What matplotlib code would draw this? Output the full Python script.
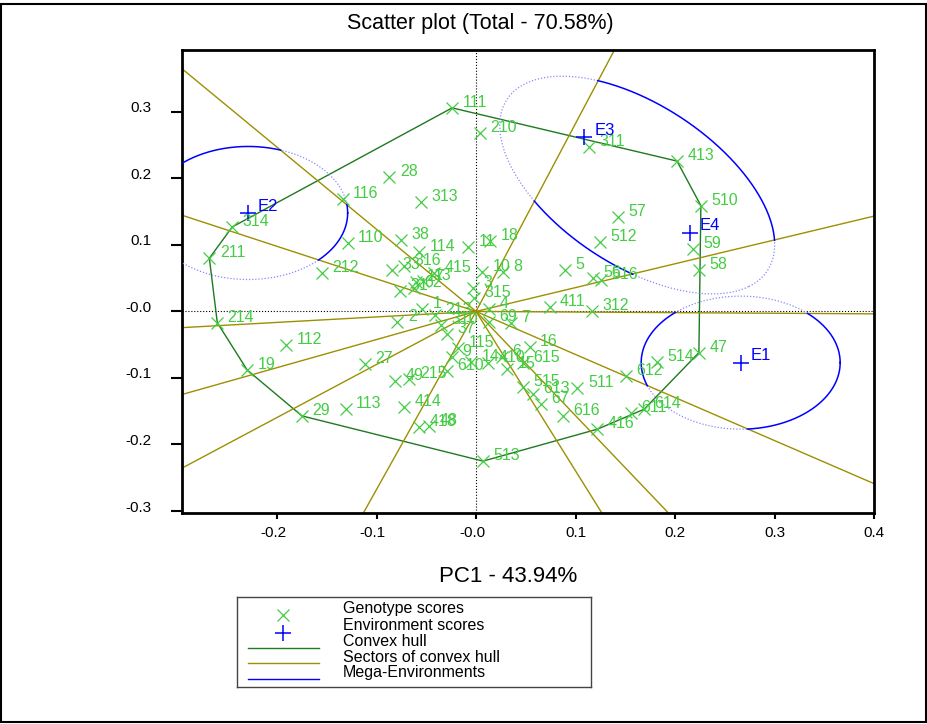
import numpy as np
import matplotlib
matplotlib.use("Agg")
import matplotlib.pyplot as plt
from matplotlib.patches import Rectangle
from matplotlib.transforms import ScaledTranslation

plt.rcParams["font.family"] = ["Liberation Sans", "DejaVu Sans"]
plt.rcParams["axes.unicode_minus"] = False

# -------------------------------------
# Dados
# -------------------------------------
geno_labels = ["111", "210", "28", "116", "313", "314", "110", "38", "211", "212",
               "114", "11", "18", "10", "8", "415", "33", "316", "17", "13",
               "31", "62", "3", "315", "4", "1", "213", "2", "310", "37",
               "69", "7", "214", "112", "19", "27", "29", "113", "49", "215",
               "414", "418", "48", "115", "9", "610", "14", "410", "6", "15",
               "16", "615", "515", "613", "67", "511", "616", "416", "513", "611",
               "614", "612", "514", "47", "411", "312", "5", "56", "516", "58",
               "59", "512", "57", "510", "413", "311"]
geno_x = [-0.024, 0.004, -0.087, -0.134, -0.055, -0.245, -0.129, -0.075, -0.268, -0.155,
          -0.057, -0.008, 0.014, 0.006, 0.027, -0.042, -0.084, -0.072, -0.060, -0.053,
          -0.076, -0.062, -0.003, -0.002, 0.013, -0.054, -0.041, -0.079, -0.035, -0.029,
          0.013, 0.035, -0.260, -0.191, -0.230, -0.112, -0.175, -0.131, -0.081, -0.067,
          -0.072, -0.057, -0.047, -0.018, -0.024, -0.029, -0.005, 0.012, 0.026, 0.031,
          0.054, 0.047, 0.047, 0.057, 0.065, 0.102, 0.087, 0.122, 0.007, 0.156,
          0.169, 0.151, 0.182, 0.224, 0.074, 0.117, 0.089, 0.118, 0.126, 0.224,
          0.218, 0.125, 0.143, 0.226, 0.202, 0.114]
geno_y = [0.306, 0.268, 0.202, 0.169, 0.165, 0.127, 0.103, 0.108, 0.080, 0.058,
          0.089, 0.097, 0.106, 0.059, 0.059, 0.058, 0.062, 0.068, 0.044, 0.046,
          0.031, 0.035, 0.035, 0.020, 0.004, 0.004, -0.005, -0.016, -0.020, -0.034,
          -0.016, -0.017, -0.017, -0.050, -0.088, -0.079, -0.157, -0.147, -0.105, -0.102,
          -0.144, -0.174, -0.172, -0.055, -0.068, -0.089, -0.076, -0.077, -0.068, -0.086,
          -0.053, -0.077, -0.114, -0.124, -0.139, -0.115, -0.157, -0.177, -0.225, -0.153,
          -0.147, -0.097, -0.076, -0.062, 0.007, 0.001, 0.062, 0.050, 0.047, 0.062,
          0.094, 0.105, 0.142, 0.159, 0.226, 0.247]

env_labels = ["E1", "E2", "E3", "E4"]
env_x = [0.266, -0.229, 0.109, 0.215]
env_y = [-0.077, 0.148, 0.262, 0.118]

# grupos de mega-ambientes
mega_groups = [["E1"], ["E2"], ["E3", "E4"]]
mega_radius = 0.1

x_ticks = [-0.2, -0.1, 0.0, 0.1, 0.2, 0.3, 0.4]
x_ticklabels = ["-0.2", "-0.1", "-0.0", "0.1", "0.2", "0.3", "0.4"]
y_ticks = [0.3, 0.2, 0.1, 0.0, -0.1, -0.2, -0.3]
y_ticklabels = ["0.3", "0.2", "0.1", "-0.0", "-0.1", "-0.2", "-0.3"]

# cores
c_geno = "#44cc44"
c_env = "#0000ff"
c_hull = "#1e7a1e"
c_sector = "#9c9000"
c_mega = "#0000ff"
c_mega_dot = "#8888ff"


# -------------------------------------
# Envoltória convexa (monotone chain, sentido anti-horário)
# -------------------------------------
def convex_hull(points):
    pts = sorted(set(points))

    def cross(o, a, b):
        return (a[0] - o[0]) * (b[1] - o[1]) - (a[1] - o[1]) * (b[0] - o[0])

    lower = []
    for p in pts:
        while len(lower) >= 2 and cross(lower[-2], lower[-1], p) <= 0:
            lower.pop()
        lower.append(p)
    upper = []
    for p in reversed(pts):
        while len(upper) >= 2 and cross(upper[-2], upper[-1], p) <= 0:
            upper.pop()
        upper.append(p)
    return lower[:-1] + upper[:-1]


hull = np.array(convex_hull(list(zip(geno_x, geno_y))))

# -------------------------------------
# Figura
# -------------------------------------
fig = plt.figure(figsize=(9.28, 7.24), dpi=100)
ax = fig.add_axes([182 / 928, 1 - 513 / 724, 692 / 928, 463 / 724])
ax.set_xlim(-0.2955, 0.4)
ax.set_ylim(-0.303, 0.393)

# linhas de referência
ax.axvline(0, color="black", linestyle=":", linewidth=0.8, zorder=1)
ax.axhline(0, color="black", linestyle=":", linewidth=0.8, zorder=1)

# envoltória
hx = np.append(hull[:, 0], hull[0, 0])
hy = np.append(hull[:, 1], hull[0, 1])
ax.plot(hx, hy, color=c_hull, linewidth=1.0, zorder=2)

# setores: raios perpendiculares a cada aresta da envoltória
n_h = len(hull)
for i in range(n_h):
    a = hull[i]
    b = hull[(i + 1) % n_h]
    dx, dy = b - a
    nv = np.array([dy, -dx]) / np.hypot(dx, dy)
    ax.plot([0, nv[0] * 2], [0, nv[1] * 2], color=c_sector, linewidth=1.0, zorder=2)


def winner(px, py):
    return np.argmax(np.outer(px, hull[:, 0]) + np.outer(py, hull[:, 1]), axis=1)


# mega-ambientes: sólido dentro do setor, pontilhado fora
t = np.linspace(0, 2 * np.pi, 1441)
for grp in mega_groups:
    idx = [env_labels.index(g) for g in grp]
    ex = np.array([env_x[i] for i in idx])
    ey = np.array([env_y[i] for i in idx])
    cx, cy = ex.mean(), ey.mean()
    if len(idx) == 1:
        u = np.array([1.0, 0.0])
        a_len = mega_radius
    else:
        d = np.array([ex[-1] - ex[0], ey[-1] - ey[0]])
        u = d / np.hypot(*d)
        a_len = np.hypot(*d) / 2 + mega_radius
    v = np.array([-u[1], u[0]])
    px = cx + a_len * np.cos(t) * u[0] + mega_radius * np.sin(t) * v[0]
    py = cy + a_len * np.cos(t) * u[1] + mega_radius * np.sin(t) * v[1]
    target = winner(ex[:1], ey[:1])[0]
    solid = winner(px, py) == target
    solid_ext = solid | np.roll(solid, 1) | np.roll(solid, -1)
    ax.plot(np.where(~solid, px, np.nan), np.where(~solid, py, np.nan),
            color=c_mega_dot, linestyle=(0, (1, 1.5)), linewidth=0.9, zorder=3)
    ax.plot(np.where(solid_ext, px, np.nan), np.where(solid_ext, py, np.nan),
            color=c_mega, linewidth=1.1, zorder=3)

# pontos de genótipos
ax.plot(geno_x, geno_y, "x", color=c_geno, markersize=9, markeredgewidth=0.9, zorder=4)
for lab, x, y in zip(geno_labels, geno_x, geno_y):
    ax.annotate(lab, (x, y), xytext=(7.5, 4), textcoords="offset points",
                ha="left", va="center", color=c_geno, fontsize=11.5, zorder=5)

# pontos de ambientes
ax.plot(env_x, env_y, "+", color=c_env, markersize=11, markeredgewidth=1.1, zorder=4)
for lab, x, y in zip(env_labels, env_x, env_y):
    ax.annotate(lab, (x, y), xytext=(7, 5), textcoords="offset points",
                ha="left", va="center", color=c_env, fontsize=12, zorder=5)

# eixos
for s in ax.spines.values():
    s.set_linewidth(2)
ax.set_xticks(x_ticks)
ax.set_xticklabels(x_ticklabels)
ax.set_yticks(y_ticks)
ax.set_yticklabels(y_ticklabels)
ax.tick_params(axis="y", direction="out", length=8, width=1.5, pad=14, labelsize=11)
ax.tick_params(axis="x", direction="out", length=4.5, width=1.5, pad=5, labelsize=11)
for lab in ax.get_yticklabels():
    lab.set_transform(lab.get_transform() + ScaledTranslation(0, 5 / 100, fig.dpi_scale_trans))
for lab in ax.get_xticklabels():
    if lab.get_text().startswith("-"):
        lab.set_transform(lab.get_transform() + ScaledTranslation(-4 / 100, 0, fig.dpi_scale_trans))

# títulos
fig.text(480 / 928, 1 - 23 / 724, "Scatter plot (Total - 70.58%)", ha="center", va="center", fontsize=15.5)
fig.text(508 / 928, 1 - 577 / 724, "PC1 - 43.94%", ha="center", va="center", fontsize=16)

# -------------------------------------
# Legenda (desenhada à mão)
# -------------------------------------
lax = fig.add_axes([237 / 928, 1 - 687 / 724, 354 / 928, 90 / 724])
lax.set_xlim(237, 591)
lax.set_ylim(687, 597)
lax.set_xticks([])
lax.set_yticks([])
for s in lax.spines.values():
    s.set_linewidth(1.0)
    s.set_edgecolor("#444444")
lax.plot([283], [615], "x", color=c_geno, markersize=8, markeredgewidth=0.9)
lax.plot([283], [633], "+", color=c_env, markersize=11, markeredgewidth=1.1)
lax.plot([248, 319], [648, 648], color=c_hull, linewidth=1.0)
lax.plot([248, 319], [663, 663], color=c_sector, linewidth=1.0)
lax.plot([248, 319], [679, 679], color=c_mega, linewidth=1.0)
leg_texts = ["Genotype scores", "Environment scores", "Convex hull",
             "Sectors of convex hull", "Mega-Environments"]
for k, txt in enumerate(leg_texts):
    lax.text(343, 609 + 16 * k, txt, ha="left", va="center", fontsize=11.5)

# borda da figura
fig.patches.append(Rectangle((1 / 928, 2 / 724), 925 / 928, 718 / 724, transform=fig.transFigure,
                             fill=False, linewidth=1.5, edgecolor="black"))

fig.savefig("out.png", dpi=100)
